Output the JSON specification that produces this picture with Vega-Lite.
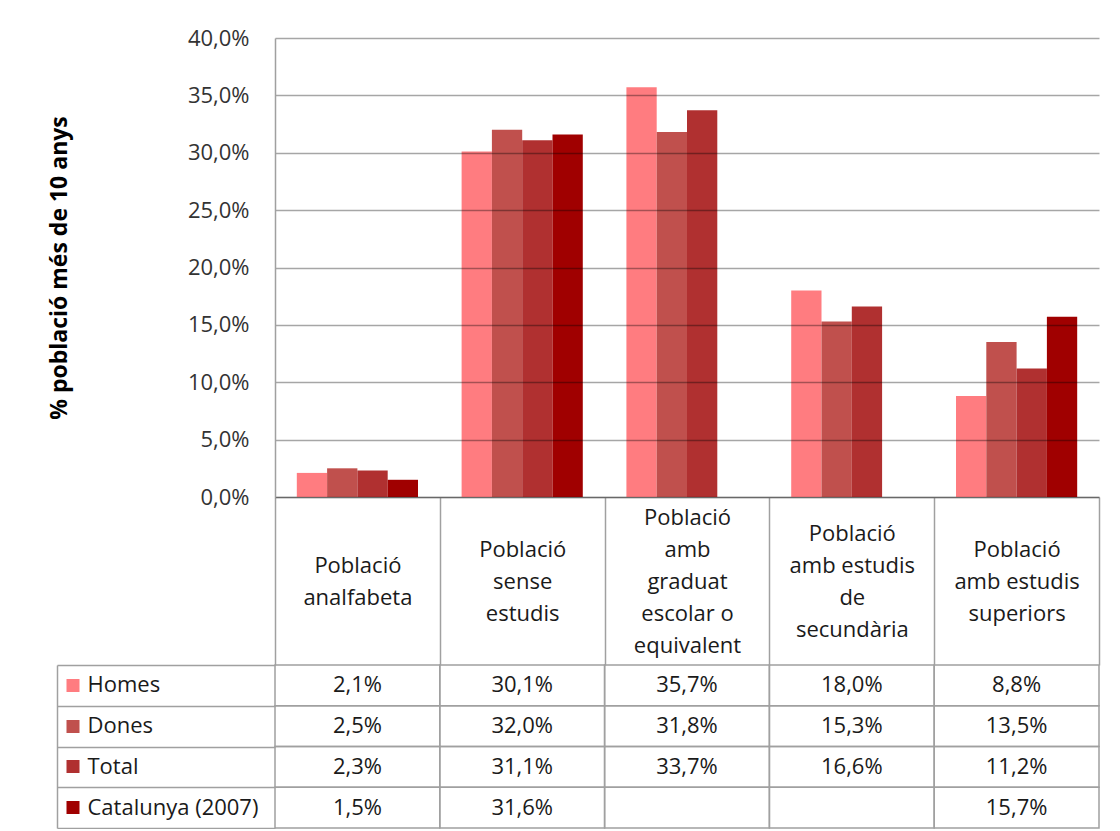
{
  "$schema": "https://vega.github.io/schema/vega-lite/v6.json",
  "padding": {"left": 48, "top": 27, "right": 5, "bottom": 0},
  "config": {
    "locale": {"number": {"decimal": ",", "thousands": ".", "grouping": [3], "currency": ["", " €"]}},
    "view": {"stroke": null},
    "font": "Open Sans",
    "axis": {"labelFont": "Open Sans", "titleFont": "Open Sans"},
    "text": {"font": "Open Sans"}
  },
  "datasets": {
    "d": [
      {"categoria": "Població analfabeta", "serie": "Homes", "valor": 0.021},
      {"categoria": "Població sense estudis", "serie": "Homes", "valor": 0.301},
      {"categoria": "Població amb graduat escolar o equivalent", "serie": "Homes", "valor": 0.357},
      {"categoria": "Població amb estudis de secundària", "serie": "Homes", "valor": 0.180},
      {"categoria": "Població amb estudis superiors", "serie": "Homes", "valor": 0.088},
      {"categoria": "Població analfabeta", "serie": "Dones", "valor": 0.025},
      {"categoria": "Població sense estudis", "serie": "Dones", "valor": 0.320},
      {"categoria": "Població amb graduat escolar o equivalent", "serie": "Dones", "valor": 0.318},
      {"categoria": "Població amb estudis de secundària", "serie": "Dones", "valor": 0.153},
      {"categoria": "Població amb estudis superiors", "serie": "Dones", "valor": 0.135},
      {"categoria": "Població analfabeta", "serie": "Total", "valor": 0.023},
      {"categoria": "Població sense estudis", "serie": "Total", "valor": 0.311},
      {"categoria": "Població amb graduat escolar o equivalent", "serie": "Total", "valor": 0.337},
      {"categoria": "Població amb estudis de secundària", "serie": "Total", "valor": 0.166},
      {"categoria": "Població amb estudis superiors", "serie": "Total", "valor": 0.112},
      {"categoria": "Població analfabeta", "serie": "Catalunya (2007)", "valor": 0.015},
      {"categoria": "Població sense estudis", "serie": "Catalunya (2007)", "valor": 0.316},
      {"categoria": "Població amb graduat escolar o equivalent", "serie": "Catalunya (2007)", "valor": null},
      {"categoria": "Població amb estudis de secundària", "serie": "Catalunya (2007)", "valor": null},
      {"categoria": "Població amb estudis superiors", "serie": "Catalunya (2007)", "valor": 0.157}
    ]
  },
  "bounds": "flush",
  "spacing": 168,
  "vconcat": [
    {
      "width": 824,
      "height": 459,
      "data": {"name": "d"},
      "mark": {"type": "bar"},
      "encoding": {
        "x": {
          "field": "categoria", "type": "nominal",
          "scale": {"domain": ["Població analfabeta", "Població sense estudis", "Població amb graduat escolar o equivalent", "Població amb estudis de secundària", "Població amb estudis superiors"], "paddingInner": 0, "paddingOuter": 0},
          "axis": {
            "title": null, "labelAngle": 0,
            "labelExpr": "datum.label == 'Població analfabeta' ? ['Població','analfabeta'] : datum.label == 'Població sense estudis' ? ['Població','sense','estudis'] : datum.label == 'Població amb graduat escolar o equivalent' ? ['Població','amb','graduat','escolar o','equivalent'] : datum.label == 'Població amb estudis de secundària' ? ['Població','amb estudis','de','secundària'] : datum.label == 'Població amb estudis superiors' ? ['Població','amb estudis','superiors'] : ''",
            "labelFontSize": 22, "labelColor": "#1a1a1a", "labelLineHeight": 32, "labelBaseline": "middle",
            "labelPadding": {"expr": "-84 - 16 * (datum.value == 'Població analfabeta' ? 1 : datum.value == 'Població amb graduat escolar o equivalent' ? 4 : datum.value == 'Població amb estudis de secundària' ? 3 : 2)"},
            "labelOverlap": false, "labelLimit": 0,
            "tickBand": "extent", "tickSize": 168, "tickColor": "#a0a0a0", "tickWidth": 1.5,
            "domainColor": "#a0a0a0", "domainWidth": 1.5, "grid": false
          }
        },
        "xOffset": {
          "field": "serie", "type": "nominal",
          "scale": {"domain": ["Homes", "Dones", "Total", "Catalunya (2007)"], "paddingInner": 0, "paddingOuter": 0.72}
        },
        "y": {
          "field": "valor", "type": "quantitative",
          "scale": {"domain": [0, 0.4], "nice": false},
          "axis": {
            "title": "% població més de 10 anys", "titleFontSize": 23, "titleFontWeight": "bold", "titleColor": "#000", "titlePadding": 116,
            "values": [0, 0.05, 0.1, 0.15, 0.2, 0.25, 0.3, 0.35, 0.4], "format": ".1%",
            "labelFontSize": 22, "labelColor": "#333333", "labelPadding": 26, "ticks": false,
            "domainColor": "#a0a0a0", "domainWidth": 1.5,
            "gridColor": "#000000", "gridOpacity": 0.35, "gridWidth": 1.5, "zindex": 1
          }
        },
        "color": {
          "field": "serie", "type": "nominal",
          "scale": {"domain": ["Homes", "Dones", "Total", "Catalunya (2007)"], "range": ["#FF7C80", "#C0504D", "#B03030", "#A00000"]},
          "legend": null
        }
      }
    },
    {
      "width": 824,
      "height": 163,
      "data": {"name": "d"},
      "layer": [
        {
          "mark": {"type": "rect", "fill": "transparent", "stroke": "#a0a0a0", "strokeWidth": 1.5},
          "encoding": {
            "x": {"field": "categoria", "type": "nominal", "scale": {"domain": ["Població analfabeta", "Població sense estudis", "Població amb graduat escolar o equivalent", "Població amb estudis de secundària", "Població amb estudis superiors"], "paddingInner": 0, "paddingOuter": 0}, "axis": null},
            "y": {"field": "serie", "type": "nominal", "scale": {"domain": ["Homes", "Dones", "Total", "Catalunya (2007)"], "paddingInner": 0, "paddingOuter": 0},
              "axis": {"orient": "left", "title": null, "labels": false, "domain": false, "tickBand": "extent", "tickSize": 218, "tickColor": "#a0a0a0", "tickWidth": 1.5, "grid": false}}
          }
        },
        {
          "transform": [{"filter": "isValid(datum.valor)"}],
          "mark": {"type": "text", "fontSize": 22, "color": "#1a1a1a"},
          "encoding": {
            "x": {"field": "categoria", "type": "nominal", "axis": null},
            "y": {"field": "serie", "type": "nominal",
              "axis": {"orient": "left", "title": null, "offset": 218, "domain": true, "domainColor": "#a0a0a0", "domainWidth": 1.5,
                "tickSize": -22, "tickWidth": 13, "tickDash": [0, 9, 13, 60],
                "tickColor": {"expr": "datum.value == 'Homes' ? '#FF7C80' : datum.value == 'Dones' ? '#C0504D' : datum.value == 'Total' ? '#B03030' : '#A00000'"},
                "labelAlign": "left", "labelPadding": -8, "labelFontSize": 22, "labelColor": "#1a1a1a", "labelLimit": 0, "grid": false}},
            "text": {"field": "valor", "type": "quantitative", "format": ".1%"}
          }
        }
      ],
      "resolve": {"axis": {"y": "independent"}}
    }
  ]
}
